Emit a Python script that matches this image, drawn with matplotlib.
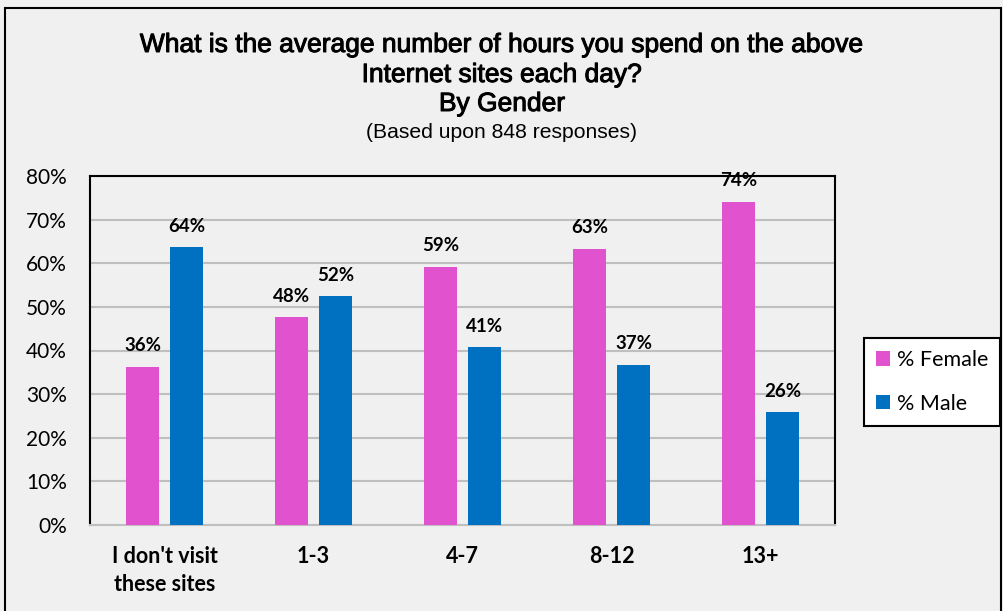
import matplotlib
matplotlib.use("Agg")
import matplotlib.pyplot as plt
import matplotlib.patheffects as pe
from matplotlib.patches import Rectangle
import numpy as np

categories = ["I don't visit\nthese sites", "1-3", "4-7", "8-12", "13+"]
female = [36.3, 47.6, 59.2, 63.3, 74.1]
male = [63.7, 52.4, 40.8, 36.7, 25.9]
yticks = [0, 10, 20, 30, 40, 50, 60, 70, 80]
series_names = ["% Female", "% Male"]

bg = "#f0f0f0"
c_f = "#e052ce"
c_m = "#0070c0"
body_font = ["Lato", "DejaVu Sans"]
title_font = ["Liberation Sans", "DejaVu Sans"]

fig = plt.figure(figsize=(10.04, 6.11), dpi=100, facecolor=bg)
ax = fig.add_axes([90/1004, 1-525/611, (835-90)/1004, (525-176)/611])
ax.set_facecolor(bg)

x = np.arange(len(categories))
w = 0.222
off = 0.148
bf = ax.bar(x - off, female, w, color=c_f, label=series_names[0], zorder=3)
bm = ax.bar(x + off, male, w, color=c_m, label=series_names[1], zorder=3)

for bars, vals in ((bf, female), (bm, male)):
    for b, v in zip(bars, vals):
        ax.annotate(f"{round(v):d}%", (b.get_x() + b.get_width()/2, v),
                    xytext=(0, 9), textcoords="offset points",
                    ha="center", va="bottom", fontsize=13.5,
                    fontweight="bold", family=body_font, zorder=5,
                    annotation_clip=False)

ax.set_xlim(-0.5, len(categories) - 0.5)
ax.set_ylim(0, 80)
ax.set_yticks(yticks)
ax.set_yticklabels([f"{t}%" for t in yticks], fontsize=15, family=body_font)
ax.set_xticks(x)
ax.set_xticklabels(categories, fontsize=15.5, fontweight="bold", family=body_font,
                   linespacing=1.45)
ax.tick_params(axis="both", length=0)
ax.tick_params(axis="y", pad=16.5)
ax.tick_params(axis="x", pad=15)
ax.yaxis.grid(True, color="#bfbfbf", linewidth=1.5, zorder=0)
ax.set_axisbelow(True)
for s in ("top", "left", "right"):
    ax.spines[s].set_color("black")
    ax.spines[s].set_linewidth(1.5)
ax.spines["bottom"].set_color("#bfbfbf")
ax.spines["bottom"].set_linewidth(1.5)

leg = fig.legend(handles=[bf, bm], labels=series_names, loc="center",
                 bbox_to_anchor=(932/1004, 1-382/611),
                 prop={"family": body_font, "size": 15.5},
                 frameon=True, fancybox=False, edgecolor="black",
                 facecolor="white", framealpha=1, handlelength=0.65,
                 handleheight=0.65, handletextpad=0.3, labelspacing=1.1,
                 borderpad=0.55)
leg.get_frame().set_linewidth(1.5)

heavy = [pe.withStroke(linewidth=0.7, foreground="black")]
fig.text(0.5, 1-45/611, "What is the average number of hours you spend on the above",
         ha="center", va="center", fontsize=19, family=title_font, path_effects=heavy)
fig.text(0.5, 1-75/611, "Internet sites each day?",
         ha="center", va="center", fontsize=19, family=title_font, path_effects=heavy)
fig.text(0.5, 1-104/611, "By Gender",
         ha="center", va="center", fontsize=19, family=title_font, path_effects=heavy)
fig.text(0.5, 1-132/611, "(Based upon 848 responses)",
         ha="center", va="center", fontsize=15.2, family=title_font)

fig.patches.append(Rectangle((5/1004, -0.1), (1001-5)/1004, 1.1 - 8/611,
                             transform=fig.transFigure, fill=False,
                             edgecolor="black", linewidth=1.5))

fig.savefig("out.png", dpi=100, facecolor=bg)
